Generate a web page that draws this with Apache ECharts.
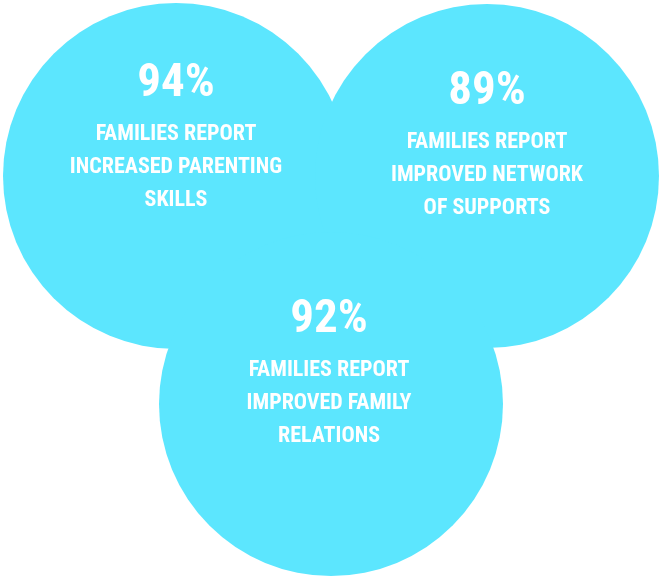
<!DOCTYPE html>
<html>
<head>
<meta charset="utf-8">
<script src="https://cdn.jsdelivr.net/npm/echarts@6/dist/echarts.min.js"></script>
<style>
  html, body { margin: 0; padding: 0; background: #fff; }
  #chart { width: 660px; height: 580px; }
</style>
</head>
<body>
<div id="chart"></div>
<script>
// values
const percents = [94, 89, 92];
const captions = [
  ['FAMILIES REPORT', 'INCREASED PARENTING', 'SKILLS'],
  ['FAMILIES REPORT', 'IMPROVED NETWORK', 'OF SUPPORTS'],
  ['FAMILIES REPORT', 'IMPROVED FAMILY', 'RELATIONS']
];

// layout of the three bubbles (pixels in the 660x580 canvas)
const layout = [
  { x: 176, y: 176, r: 173, dx: 0, dy: -42 },
  { x: 487, y: 176, r: 172, dx: 0, dy: -34 },
  { x: 331, y: 404, r: 172, dx: -2, dy: -34 }
];

const FONT = '"Roboto Condensed", "Liberation Sans Narrow", "Arial Narrow", "DejaVu Sans Condensed", Roboto, sans-serif';
const CYAN = '#5ce6fe';

let bubbleData = percents.map((p, i) => {
  let l = layout[i];
  return {
    value: [l.x, l.y],
    symbolSize: l.r * 2,
    label: {
      offset: [l.dx, l.dy],
      formatter: '{p|' + p + '%}\n' + captions[i].map(c => '{t|' + c + '}').join('\n')
    }
  };
});

let chart = echarts.init(document.getElementById('chart'));
chart.setOption({
  animation: false,
  backgroundColor: '#fff',
  grid: { left: 0, right: 0, top: 0, bottom: 0 },
  xAxis: { type: 'value', min: 0, max: 660, show: false },
  yAxis: { type: 'value', min: 0, max: 580, inverse: true, show: false },
  series: [{
    type: 'scatter',
    symbol: 'circle',
    data: bubbleData,
    itemStyle: { color: CYAN, opacity: 1 },
    emphasis: { disabled: true },
    label: {
      show: true,
      position: 'inside',
      align: 'center',
      color: '#fff',
      rich: {
        p: { fontFamily: FONT, fontSize: 47, fontWeight: 'bold', lineHeight: 67, color: '#fff', align: 'center' },
        t: { fontFamily: FONT, fontSize: 22, fontWeight: 'bold', lineHeight: 33, color: '#fff', align: 'center' }
      }
    }
  }]
});
</script>
</body>
</html>
